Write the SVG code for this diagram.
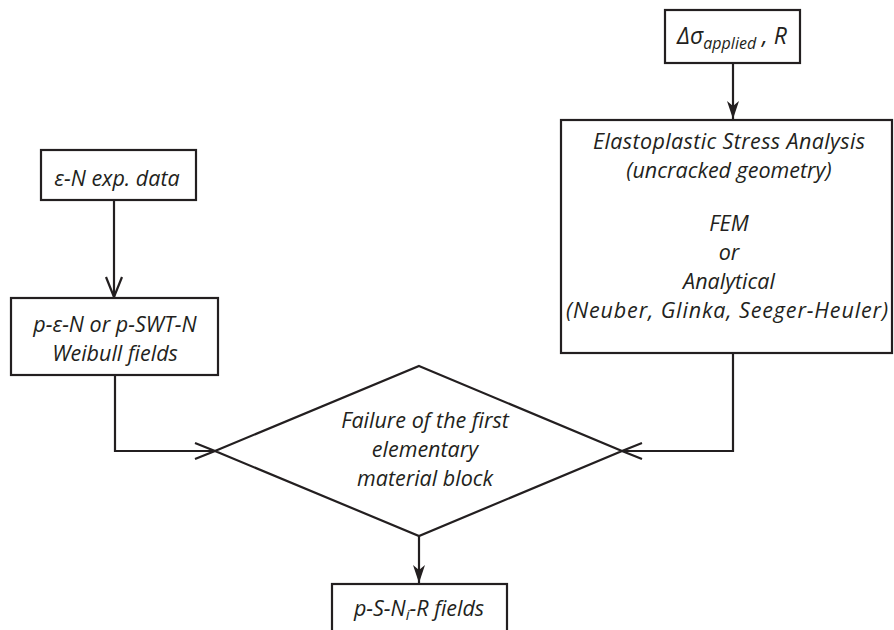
<svg xmlns="http://www.w3.org/2000/svg" width="894" height="630" viewBox="0 0 894 630">
<style>
.box{fill:#fff;stroke:#231f20;stroke-width:2.2}
.con{fill:none;stroke:#231f20;stroke-width:2.2}
text{font-family:"Open Sans","Liberation Sans",sans-serif;font-style:italic;font-size:21.5px;fill:#231f20;text-anchor:middle}
</style>
<defs>
<marker id="open" markerUnits="userSpaceOnUse" markerWidth="24" markerHeight="20" refX="22" refY="10" orient="auto" overflow="visible">
<path d="M2,2 L22,10 L2,18" fill="none" stroke="#231f20" stroke-width="2.2"/>
</marker>
<marker id="solid" markerUnits="userSpaceOnUse" markerWidth="18" markerHeight="12" refX="18" refY="6" orient="auto" overflow="visible">
<path d="M0,0 L18,6 L0,12 L5,6 z" fill="#231f20"/>
</marker>
</defs>
<rect width="894" height="630" fill="#fff"/>
<g id="connectors">
<path class="con" d="M733,63 V119" marker-end="url(#solid)"/>
<path class="con" d="M114,200 V297" marker-end="url(#open)"/>
<path class="con" d="M115,375 V451 H215" marker-end="url(#open)"/>
<path class="con" d="M733,353 V451 H622" marker-end="url(#open)"/>
<path class="con" d="M419,536 V583" marker-end="url(#solid)"/>
</g>
<g id="load">
<rect class="box" x="665" y="10" width="135" height="53"/>
<text x="732" y="44" style="font-size:23px">Δσ<tspan dy="5" style="font-size:16px">applied</tspan><tspan dy="-5"> , R</tspan></text>
</g>
<g id="stress">
<rect class="box" x="561" y="120" width="331" height="233"/>
<text x="729" y="149" textLength="272">Elastoplastic Stress Analysis</text>
<text x="729" y="178">(uncracked geometry)</text>
<text x="729" y="231">FEM</text>
<text x="729" y="260">or</text>
<text x="729" y="289">Analytical</text>
<text x="727" y="318" textLength="322">(Neuber, Glinka, Seeger-Heuler)</text>
</g>
<g id="exp">
<rect class="box" x="41" y="150" width="155" height="50"/>
<text x="117" y="186">ε-N exp. data</text>
</g>
<g id="weibull">
<rect class="box" x="11" y="298" width="207" height="77"/>
<text x="115" y="332">p-ε-N or p-SWT-N</text>
<text x="115" y="361">Weibull fields</text>
</g>
<g id="failure">
<polygon class="box" points="419,366 622,451 419,536 215,451"/>
<text x="425" y="428">Failure of the first</text>
<text x="425" y="457">elementary</text>
<text x="425" y="486">material block</text>
</g>
<g id="psn">
<rect class="box" x="332" y="584" width="175" height="60"/>
<text x="419" y="616">p-S-N<tspan dy="4" style="font-size:15px">i</tspan><tspan dy="-4">-R fields</tspan></text>
</g>
</svg>
